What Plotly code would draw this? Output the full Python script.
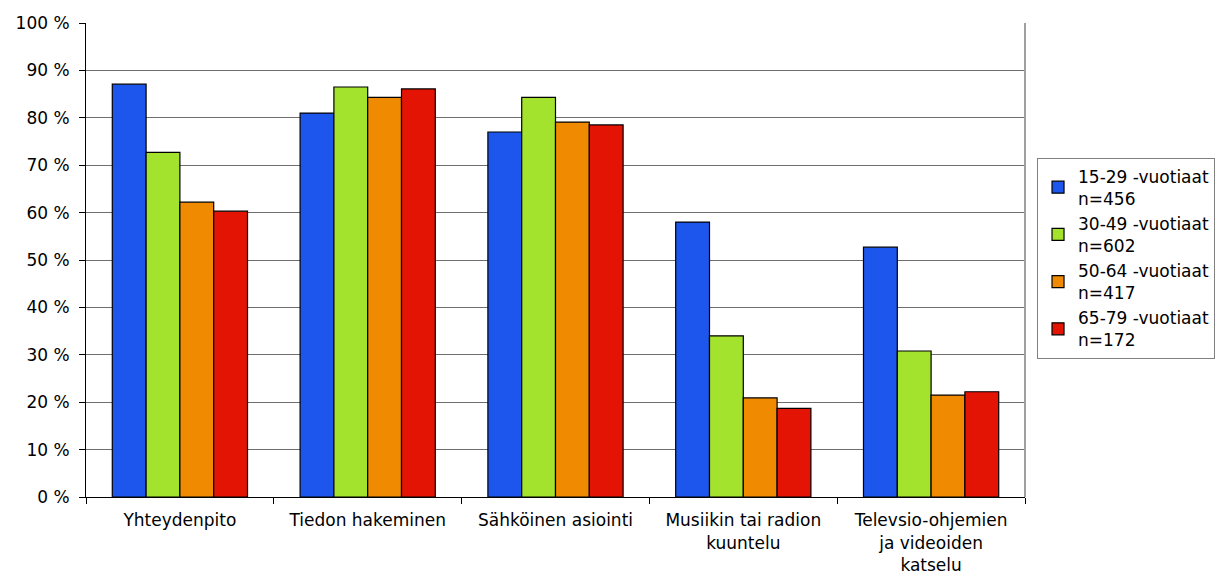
import plotly.graph_objects as go

categories = ["Yhteydenpito", "Tiedon hakeminen", "Sähköinen asiointi",
              "Musiikin tai radion<br>kuuntelu", "Televsio-ohjemien<br>ja videoiden<br>katselu"]
series_names = ["15-29 -vuotiaat<br>n=456", "30-49 -vuotiaat<br>n=602",
                "50-64 -vuotiaat<br>n=417", "65-79 -vuotiaat<br>n=172"]
v_15_29 = [87.1, 81.0, 77.0, 58.0, 52.7]
v_30_49 = [72.7, 86.5, 84.3, 34.0, 30.8]
v_50_64 = [62.2, 84.3, 79.1, 20.9, 21.5]
v_65_79 = [60.3, 86.1, 78.5, 18.7, 22.2]
colors = ["#1c56ec", "#a3e22d", "#f08a00", "#e41405"]
y_ticks = list(range(0, 101, 10))
y_tick_labels = [f"{v} %" for v in y_ticks]

fig = go.Figure()
for name, vals, col in zip(series_names, [v_15_29, v_30_49, v_50_64, v_65_79], colors):
    fig.add_trace(go.Bar(x=categories, y=vals, name=name,
                         marker=dict(color=col, line=dict(color="#000000", width=1.2))))

fig.update_layout(
    width=1240, height=578,
    margin=dict(l=86, r=215, t=23, b=81, autoexpand=False),
    barmode="group", bargap=0.28, bargroupgap=0,
    plot_bgcolor="white", paper_bgcolor="white",
    font=dict(family="DejaVu Sans, Verdana, sans-serif", size=17, color="#000000"),
    legend=dict(x=1.0128, y=0.504, xanchor="left", yanchor="middle",
                bordercolor="#808080", borderwidth=1, font=dict(size=17),
                tracegroupgap=0, itemwidth=30),
    xaxis=dict(showline=True, linecolor="#000000", linewidth=1, automargin=False,
               ticks="outside", tickson="boundaries", ticklen=6, tickcolor="#000000",
               ticklabelstandoff=8, showgrid=False),
    yaxis=dict(range=[0, 100], tickmode="array", tickvals=y_ticks, ticktext=y_tick_labels,
               showline=True, linecolor="#000000", linewidth=1, automargin=False,
               ticks="outside", ticklen=6, tickcolor="#000000", ticklabelstandoff=6,
               showgrid=True, gridcolor="#6e6e6e", gridwidth=1, zeroline=False),
)
fig.add_shape(type="line", xref="paper", yref="paper", x0=1, x1=1, y0=0, y1=1,
              line=dict(color="#a0a0a0", width=2))

fig.write_html("out.html", config={"displayModeBar": False},
               post_script="document.body.style.margin='0';document.body.style.overflow='hidden';")
